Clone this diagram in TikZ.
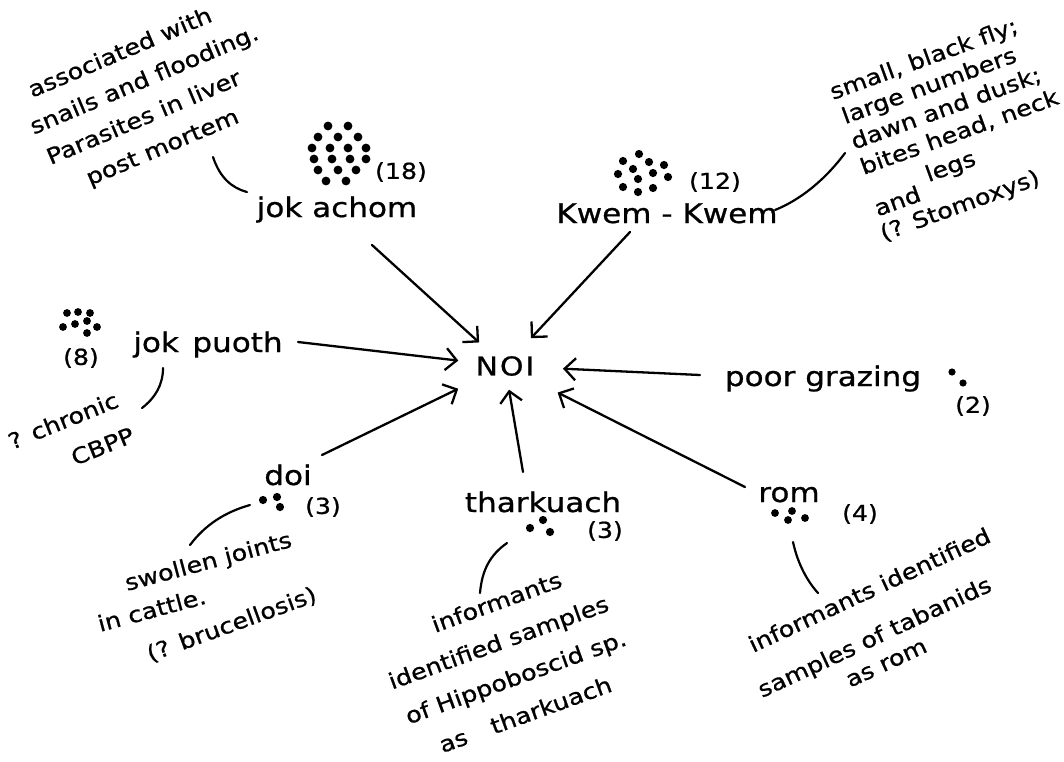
\documentclass[tikz,border=0pt]{standalone}
\usepackage{fontspec}
\newfontfamily\hand{DejaVu Sans}[FakeStretch=1.15,FakeBold=0.8]
\usetikzlibrary{arrows.meta,calc}
\newcommand\blk[2]{\vtop{\baselineskip=#1\lineskiplimit=-1000pt\lineskip=0pt #2}}
\begin{document}
\begin{tikzpicture}[x=1pt,y=-1pt,
  lbl/.style={font=\hand\fontsize{27}{30}\selectfont, inner sep=0pt, anchor=base},
  ann/.style={font=\hand\fontsize{22}{24}\selectfont, inner sep=0pt, anchor=base west},
  cnt/.style={font=\hand\fontsize{22}{24}\selectfont, inner sep=0pt},
  arr/.style={line width=2.3pt, line cap=round, -{Straight Barb[length=11pt,width=22pt,line width=2.3pt]}},
  link/.style={line width=2.2pt, line cap=round},
  dotr/.style={fill=black}]
\useasboundingbox (0,0) rectangle (1064,761);

% central node
\node[font=\hand\fontsize{26}{28}\selectfont, inner sep=0pt] (noi) at (505,366) {N\kern2pt O\kern2pt I};

% labels
\node[lbl] (ja) at (337,217) {jok achom};
\node[lbl] (kw) at (667,223) {Kwem - Kwem};
\node[lbl] (jp) at (208,352) {jok\enspace puoth};
\node[lbl] (pg) at (823,386) {poor grazing};
\node[lbl] (doi) at (288,485) {doi};
\node[lbl] (th) at (543,512) {tharkuach};
\node[lbl] (rom) at (789,502) {rom};

% counts
\node[cnt] (c18) at (401,172) {(18)};
\node[cnt] (c12) at (715,182) {(12)};
\node[cnt] (c8) at (81,358) {(8)};
\node[cnt] (c2) at (973,406) {(2)};
\node[cnt] (c3a) at (323,507) {(3)};
\node[cnt] (c3b) at (605,531) {(3)};
\node[cnt] (c4) at (860,514) {(4)};

% dots
\foreach \p in {(328,126),(348,126),(318,137),(338,137),(358,137),(312,148),(330,148),(348,148),(366,148),(314,159),(332,159),(350,159),(366,159),(318,170),(338,170),(356,170),(326,181),(346,181)}
  \fill[dotr] \p circle (4.4pt);
\foreach \p in {(639,154),(623,161),(649,162),(664,165),(633,169),(618,174),(638,179),(653,173),(668,177),(623,187),(653,188),(638,192)}
  \fill[dotr] \p circle (4.1pt);
\foreach \p in {(67,313),(78,312),(90,313),(63,327),(75,324),(87,321),(97,327),(87,333)}
  \fill[dotr] \p circle (3.9pt);
\foreach \p in {(952,372),(963,383)}
  \fill[dotr] \p circle (3.6pt);
\foreach \p in {(263,500),(277,497),(280,507)}
  \fill[dotr] \p circle (4.1pt);
\foreach \p in {(530,528),(543,520),(550,532)}
  \fill[dotr] \p circle (4.1pt);
\foreach \p in {(775,513),(792,511),(788,520),(805,518)}
  \fill[dotr] \p circle (3.9pt);

% annotations
\node[ann, rotate=23] (aja) at (20.2,103) {\blk{34.5pt}{%
  \hbox{\kern12.8pt associated with}%
  \hbox{snails and flooding.}%
  \hbox{\kern3.6pt Parasites in liver}%
  \hbox{\kern31.8pt post mortem}}};

\node[ann, rotate=20] (akw) at (832,100.3) {\blk{27pt}{%
  \hbox{\kern1pt small, black fly;}%
  \hbox{\kern4pt large numbers}%
  \hbox{\kern4pt dawn and dusk;}%
  \hbox{\kern4pt bites head, neck}%
  \vskip17pt
  \hbox{\kern3pt and\kern12pt\raise15pt\hbox{legs}}%
  \vskip-2pt
  \hbox{(? Stomoxys)}}};

\node[ann, rotate=22] (ajp) at (12,450) {\blk{38.4pt}{%
  \hbox{? chronic}%
  \hbox{\kern52.4pt CBPP}}};

\node[ann, rotate=15] (adoi) at (91.6,600.5) {\blk{32.6pt}{%
  \hbox{\kern36.7pt swollen joints}%
  \hbox{in cattle.}}};
\node[ann, rotate=20] (adoib) at (150,662) {(? brucellosis)};

\node[ann, rotate=20] (ath) at (378.7,653.5) {\blk{38.5pt}{%
  \hbox{\kern59.9pt informants}%
  \hbox{identified samples}%
  \hbox{\kern3.9pt of Hippoboscid sp.}%
  \hbox{\kern25.7pt as\kern26pt tharkuach}}};

\node[ann, rotate=25] (arom) at (743.2,657.6) {\blk{44.6pt}{%
  \hbox{\kern10.8pt informants identified}%
  \hbox{samples of tabanids}%
  \vskip-16.6pt
  \hbox{\kern83.9pt as rom}}};

% link end points
\coordinate (jaA) at (213,157); \coordinate (jaL) at (247,192);
\coordinate (kwL) at (775,210); \coordinate (kwA) at (845,153);
\coordinate (jpL) at (163,368); \coordinate (jpA) at (142,408);
\coordinate (doiL) at (250,505); \coordinate (doiA) at (190,545);
\coordinate (thL) at (507,543); \coordinate (thA) at (480,593);
\coordinate (romL) at (793,542); \coordinate (romA) at (818,593);

\draw[link] (jaA) .. controls (220,178) and (232,188) .. (jaL);
\draw[link] (kwL) .. controls (800,200) and (825,180) .. (kwA);
\draw[link] (jpL) .. controls (163,385) and (155,398) .. (jpA);
\draw[link] (doiL) .. controls (225,512) and (205,525) .. (doiA);
\draw[link] (thL) .. controls (490,555) and (482,570) .. (thA);
\draw[link] (romL) .. controls (798,565) and (808,582) .. (romA);

% arrow tails
\coordinate (jaT) at (372,245);
\coordinate (kwT) at (630,232);
\coordinate (jpT) at (298,342);
\coordinate (pgT) at (700,375);
\coordinate (doiT) at (322,455);
\coordinate (thT) at (523,472);
\coordinate (romT) at (745,487);

\draw[arr] (jaT) -- ($(noi)!35pt!(jaT)$);
\draw[arr] (kwT) -- ($(noi)!38pt!(kwT)$);
\draw[arr] (jpT) -- ($(noi)!47pt!(jpT)$);
\draw[arr] (pgT) -- ($(noi)!58pt!(pgT)$);
\draw[arr] (doiT) -- ($(noi)!52pt!(doiT)$);
\draw[arr] (thT) -- ($(noi)!24pt!(thT)$);
\draw[arr] (romT) -- ($(noi)!59pt!(romT)$);
\end{tikzpicture}
\end{document}
